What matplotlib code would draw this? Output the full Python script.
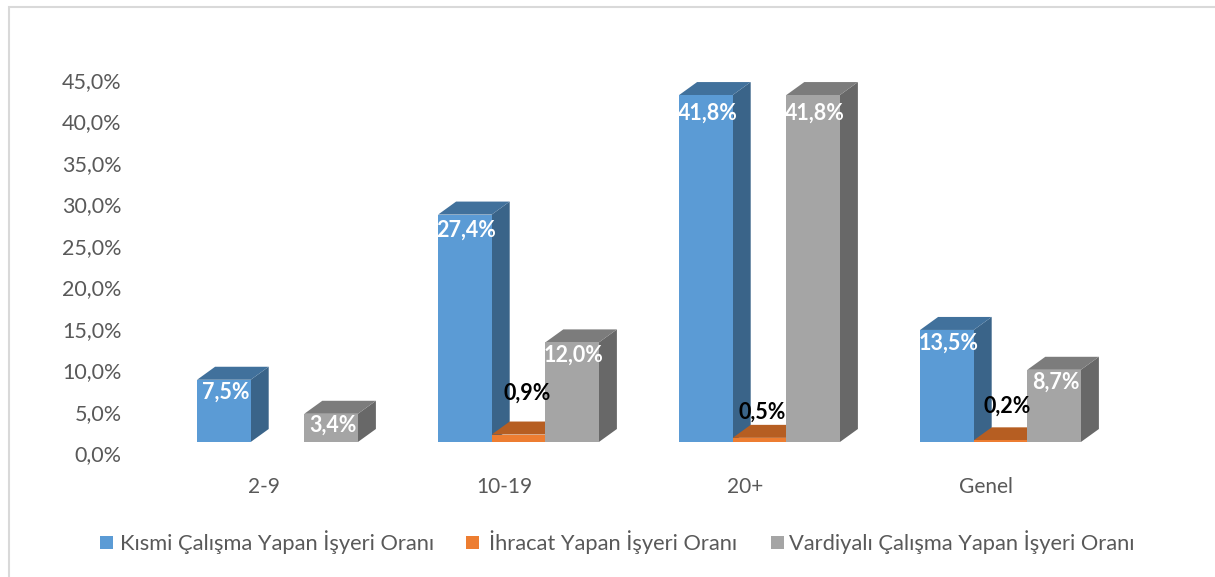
import matplotlib
matplotlib.use('Agg')
import matplotlib.pyplot as plt
from matplotlib.patches import Polygon, Rectangle
from matplotlib.transforms import ScaledTranslation

plt.rcParams['font.family'] = ['Lato', 'Noto Sans', 'DejaVu Sans']

kategoriler = ['2-9', '10-19', '20+', 'Genel']
kismi = [7.5, 27.4, 41.8, 13.5]
ihracat = [None, 0.9, 0.5, 0.2]
vardiyali = [3.4, 12.0, 41.8, 8.7]
y_ticks = [0, 5, 10, 15, 20, 25, 30, 35, 40, 45]
seri_adlari = ['Kısmi Çalışma Yapan İşyeri Oranı', 'İhracat Yapan İşyeri Oranı',
               'Vardiyalı Çalışma Yapan İşyeri Oranı']
# siyah etiketler elle kaydırılmış (piksel: sağa, yukarı)
ihracat_kayma = [None, (8.5, 41), (2.5, 26), (6.5, 34)]

W, H = 1215, 577
fig = plt.figure(figsize=(W / 100, H / 100), dpi=100)

# eksen: y=0 -> 442px, 1 birim -> 8.3px, kategori aralığı 241px
PX_X, PX_Y = 241, 8.3
sol, sag, alt, ust = 130, 1120, 442, 67
ax = fig.add_axes([sol / W, 1 - alt / H, (sag - sol) / W, (alt - ust) / H])
ax.set_xlim((sol - 277.5) / PX_X, (sag - 277.5) / PX_X)
ax.set_ylim(0, (alt - ust) / PX_Y)
ax.patch.set_alpha(0)
for s in ax.spines.values():
    s.set_visible(False)

genislik = 53.6 / PX_X
dx, dy = 18 / PX_X, 13 / PX_Y  # 3B görünüm derinliği

renkler = [('#5B9BD5', '#41719C', '#3A6489'),
           ('#ED7D31', '#B65E22', '#A5561F'),
           ('#A5A5A5', '#7C7C7C', '#686868')]


def kutu(x, h, renk):
    on, tepe, yan = renk
    ax.add_patch(Polygon([(x + genislik, 0), (x + genislik + dx, dy), (x + genislik + dx, h + dy),
                          (x + genislik, h)], fc=yan, ec='none', zorder=x))
    ax.add_patch(Polygon([(x, h), (x + dx, h + dy), (x + genislik + dx, h + dy), (x + genislik, h)],
                         fc=tepe, ec='none', zorder=x))
    ax.add_patch(Rectangle((x, 0), genislik, h, fc=on, ec='none', zorder=x + 0.01))


seriler = [kismi, ihracat, vardiyali]
for i in range(len(kategoriler)):
    for j, seri in enumerate(seriler):
        if seri[i] is None:
            continue
        x = i + (j - 1.5) * genislik
        kutu(x, seri[i], renkler[j])
        # etiketler
        yazi = f'{seri[i]:.1f}%'.replace('.', ',')
        if j == 1:
            kx, ky = ihracat_kayma[i]
            ax.text(x + genislik / 2 + kx / PX_X, seri[i] + ky / PX_Y, yazi, color='black', fontsize=15.5,
                    fontweight='bold', ha='center', va='center', zorder=50)
        else:
            ax.text(x + genislik / 2 + 1.5 / PX_X, seri[i] - (11 + 0.16 * seri[i]) / PX_Y, yazi,
                    color='white', fontsize=15.5, fontweight='bold', ha='center', va='center', zorder=50)

ax.set_yticks(y_ticks)
ax.set_yticklabels([f'{t:.1f}%'.replace('.', ',') for t in y_ticks], fontsize=15.5, color='#595959')
ax.set_xticks([i - 14 / PX_X for i in range(len(kategoriler))])
ax.set_xticklabels(kategoriler, fontsize=15, color='#595959')
ax.tick_params(length=0, axis='y', pad=6)
ax.tick_params(length=0, axis='x', pad=25)
# etiketler ön yüzün değil arka duvarın hizasında
kayma = ScaledTranslation(0, -11.5 / 100, fig.dpi_scale_trans)
for lab in ax.get_yticklabels():
    lab.set_transform(lab.get_transform() + kayma)

# gösterge
kare_x = [100, 466, 771]
yazi_x = [120, 489, 789]
for k, t, ad, r in zip(kare_x, yazi_x, seri_adlari, renkler):
    fig.add_artist(Rectangle((k / W, 1 - 549 / H), 13 / W, 13 / H, fc=r[0], ec='none',
                             transform=fig.transFigure))
    fig.text(t / W, 1 - 542 / H, ad, fontsize=15.75, color='#595959', va='center', ha='left')

# çerçeve
fig.add_artist(Rectangle((9 / W, 1 - 600 / H), 1300 / W, 593 / H, fc='none', ec='#D9D9D9',
                         lw=1.5, transform=fig.transFigure))

fig.savefig('out.png', dpi=100)
